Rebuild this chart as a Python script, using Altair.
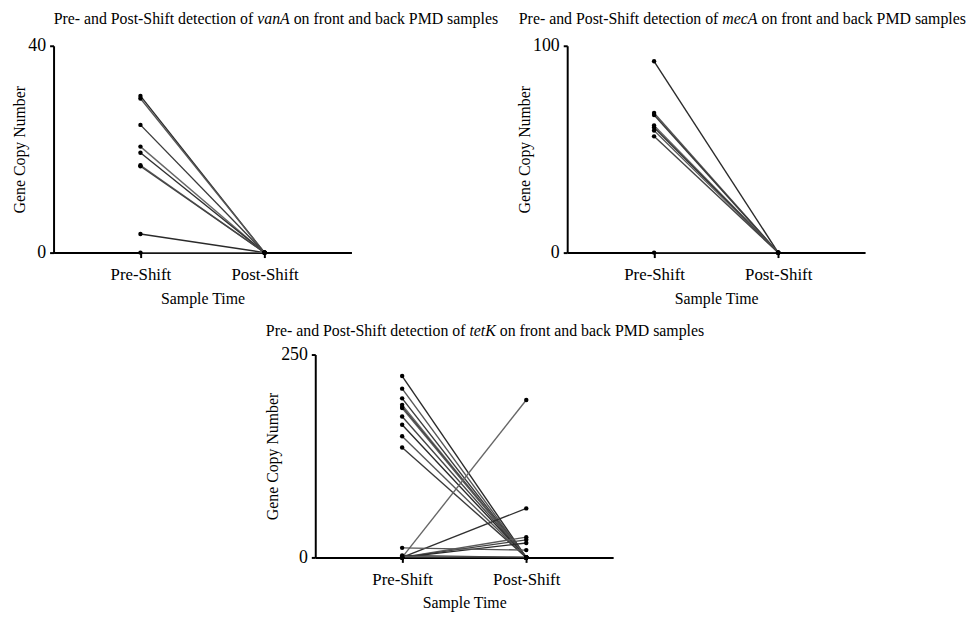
import altair as alt
import pandas as pd

SERIF = "Liberation Serif"

TIMES = ["Pre-Shift", "Post-Shift"]
X_TITLE = "Sample Time"
Y_TITLE = "Gene Copy Number"
TITLE_PREFIX = "Pre- and Post-Shift detection of"
TITLE_SUFFIX = "on front and back PMD samples"
GENES = ["vanA", "mecA", "tetK"]
Y_MAX = [40, 100, 250]

VANA_PRE = [30.3, 29.8, 24.7, 20.5, 19.3, 16.9, 16.7, 3.6, 0.0]
VANA_POST = [0.0, 0.0, 0.0, 0.0, 0.0, 0.0, 0.0, 0.0, 0.0]

MECA_PRE = [92.5, 67.5, 66.5, 61.5, 60.5, 59.0, 56.2, 0.0]
MECA_POST = [0.0, 0.0, 0.0, 0.0, 0.0, 0.0, 0.0, 0.0]

TETK_PRE = [223.5, 208.0, 196.0, 188.0, 185.5, 184.0, 173.7, 163.5, 149.3, 135.4,
            0.0, 0.0, 0.0, 0.0, 0.0, 11.8, 2.5, 1.0, 0.0]
TETK_POST = [0.0, 0.0, 0.0, 0.0, 0.0, 0.0, 0.0, 0.0, 0.0, 0.0,
             194.0, 60.4, 25.0, 21.7, 17.8, 9.0, 0.0, 0.0, 0.0]

GRAYS = ["#2a2a2a", "#555555", "#3a3a3a", "#666666", "#303030", "#5a5a5a", "#444444"]

# Times New Roman advance widths (per 1000 em) for title layout
ROMAN = {" ": 250, "P": 556, "r": 333, "e": 444, "-": 333, "a": 444, "n": 500, "d": 500,
         "o": 500, "s": 389, "t": 278, "S": 556, "h": 500, "i": 278, "f": 333, "c": 444,
         "b": 500, "k": 500, "M": 889, "D": 722, "m": 778, "p": 500, "l": 278}
ITALIC = {"v": 444, "a": 500, "n": 500, "A": 611, "m": 722, "e": 444, "c": 444,
          "t": 278, "K": 667}
TITLE_SIZE = 16
PLOT_W = 301


def text_width(s, table, size):
    return sum(table.get(ch, 500) for ch in s) * size / 1000.0


def make_panel(pre, post, gene, ymax, title_start, plot_h, ty):
    rows = []
    for i, (a, b) in enumerate(zip(pre, post)):
        rows.append({"sample": i, "time": TIMES[0], "value": a})
        rows.append({"sample": i, "time": TIMES[1], "value": b})
    df = pd.DataFrame(rows)

    x = alt.X("time:N", sort=TIMES,
              scale=alt.Scale(type="point", padding=0.7),
              axis=alt.Axis(title=X_TITLE, labelAngle=0, labelFontSize=17,
                            titleFontSize=16, tickSize=5, labelPadding=9,
                            titlePadding=8, grid=False))
    y = alt.Y("value:Q", scale=alt.Scale(domain=[0, ymax], nice=False, zero=True),
              axis=alt.Axis(title=Y_TITLE, values=[0, ymax], labelFontSize=18,
                            titleFontSize=16, tickSize=4, labelPadding=4,
                            titlePadding=0, grid=False))

    base = alt.Chart(df)
    lines = base.mark_line(strokeWidth=1.4).encode(
        x=x, y=y, detail="sample:N",
        color=alt.Color("sample:N", scale=alt.Scale(range=GRAYS), legend=None))
    pts = base.mark_circle(size=20, color="black", opacity=1).encode(x=x, y=y)

    sp = ROMAN[" "] * TITLE_SIZE / 1000.0
    pw = text_width(TITLE_PREFIX, ROMAN, TITLE_SIZE)
    gw = text_width(gene, ITALIC, TITLE_SIZE)
    gx = title_start + pw + sp
    sx = gx + gw + sp

    def txt(s, xpos, align, style):
        return alt.Chart(alt.Data(values=[{"t": s}])).mark_text(
            align=align, baseline="alphabetic", font=SERIF, fontSize=TITLE_SIZE,
            fontStyle=style, color="black").encode(
            x=alt.value(xpos), y=alt.value(ty), text="t:N")

    t1 = txt(TITLE_PREFIX, gx - sp, "right", "normal")
    t2 = txt(gene, gx, "left", "italic")
    t3 = txt(TITLE_SUFFIX, sx, "left", "normal")

    return alt.layer(lines, pts, t1, t2, t3).properties(width=PLOT_W, height=plot_h)


p1 = make_panel(VANA_PRE, VANA_POST, GENES[0], Y_MAX[0], 0, 209, -22)
p2 = make_panel(MECA_PRE, MECA_POST, GENES[1], Y_MAX[1], -49, 209, -22)
p3 = make_panel(TETK_PRE, TETK_POST, GENES[2], Y_MAX[2], -50, 205, -19)

chart = alt.vconcat(
    alt.hconcat(p1, p2, spacing=18),
    p3,
    spacing=17,
    center=True,
).configure_view(stroke=None).configure_axis(
    domainColor="black", domainWidth=2, tickColor="black", tickWidth=2,
    labelColor="black", titleColor="black", labelFont=SERIF, titleFont=SERIF,
    titleFontWeight="normal",
).properties(padding={"left": 4, "top": 0, "right": 0, "bottom": 0})

chart.save("out.html", embed_options={"renderer": "svg", "actions": False})
